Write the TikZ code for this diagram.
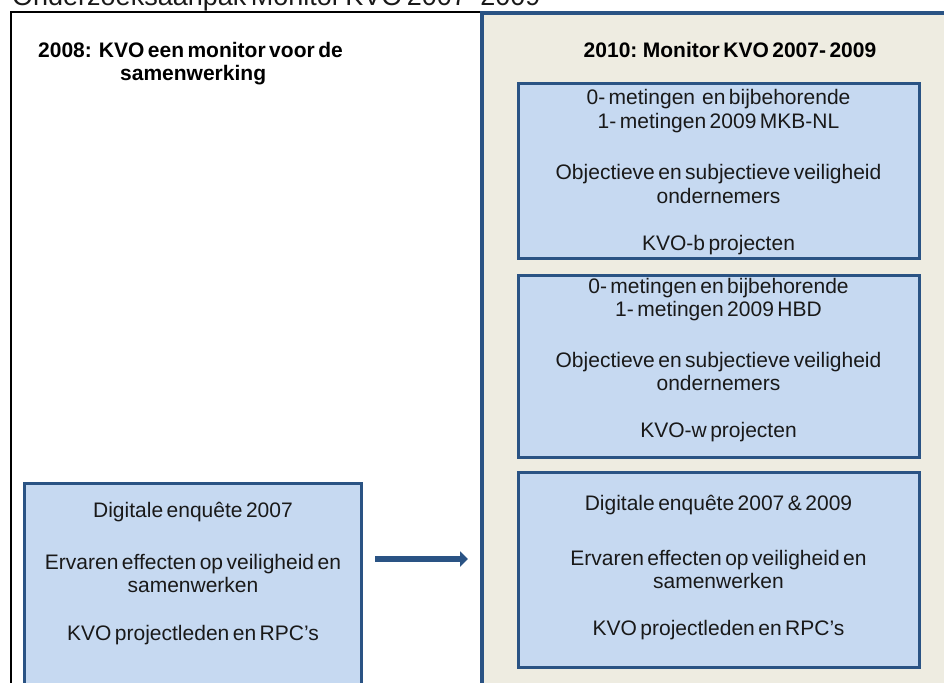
\documentclass[tikz,border=0pt]{standalone}
\usepackage{fontspec}
\setmainfont{Liberation Sans}[WordSpace=0.6]
\usetikzlibrary{arrows.meta}
\definecolor{boxfill}{HTML}{C6D9F1}
\definecolor{boxline}{HTML}{2A5384}
\definecolor{panelfill}{HTML}{EEECE1}
\tikzset{
  x=1pt, y=-1pt,
  panel/.style={fill=panelfill, draw=boxline, line width=3.5pt},
  bluebox/.style={fill=boxfill, draw=boxline, line width=3pt},
  body/.style={font=\fontsize{21}{23.5}\selectfont, align=center, inner sep=0pt, text=black!90},
  head/.style={font=\fontsize{21}{23.5}\selectfont\bfseries, inner sep=0pt, text=black},
  flowarrow/.style={draw=boxline, line width=6pt, -{Triangle[length=8pt, width=15pt]}},
}
\begin{document}
\begin{tikzpicture}
\useasboundingbox (0,0) rectangle (944,682);
% title (cut off at the top)
\node[anchor=base west, inner sep=0pt, font=\fontsize{27}{30}\selectfont, text=black!90] (title) at (12,6) {Onderzoeksaanpak Monitor KVO 2007- 2009};
% outer frame
\draw[line width=2pt] (11,700) -- (11,12) -- (484,12);
% right panel
\draw[panel] (482,13) rectangle (970,720);
% headers
\node[head, anchor=west] (h1a) at (38,50) {2008:\ \ KVO een monitor voor de};
\node[head, anchor=west] (h1b) at (120,75) {samenwerking};
\node[head] (h2) at (730,50) {2010: Monitor KVO 2007- 2009};
% boxes
\draw[bluebox] (518,84) rectangle (919,258);
\draw[bluebox] (518,275) rectangle (919,457);
\draw[bluebox] (518,472) rectangle (919,667);
\draw[bluebox] (24.5,483) rectangle (361,720);
% box 1 texts
\node[body] (b1a) at (718.5,111) {0- metingen\ \ en bijbehorende\\1- metingen 2009 MKB-NL};
\node[body] (b1b) at (718.5,184) {Objectieve en subjectieve veiligheid\\ondernemers};
\node[body] (b1c) at (718.5,245) {KVO-b projecten};
% box 2 texts
\node[body] (b2a) at (718.5,299.5) {0- metingen en bijbehorende\\1- metingen 2009 HBD};
\node[body] (b2b) at (718.5,371.5) {Objectieve en subjectieve veiligheid\\ondernemers};
\node[body] (b2c) at (718.5,432) {KVO-w projecten};
% box 3 texts
\node[body] (b3a) at (718.5,505) {Digitale enquête 2007 \& 2009};
\node[body] (b3b) at (718.5,569.5) {Ervaren effecten op veiligheid en\\samenwerken};
\node[body] (b3c) at (718.5,630) {KVO projectleden en RPC’s};
% left box texts
\node[body] (l1) at (193,512) {Digitale enquête 2007};
\node[body] (l2) at (193,573.5) {Ervaren effecten op veiligheid en\\samenwerken};
\node[body] (l3) at (193,635) {KVO projectleden en RPC’s};
% arrow
\coordinate (arrS) at (375,559);
\coordinate (arrE) at (468,559);
\draw[flowarrow] (arrS) -- (arrE);
\end{tikzpicture}
\end{document}
